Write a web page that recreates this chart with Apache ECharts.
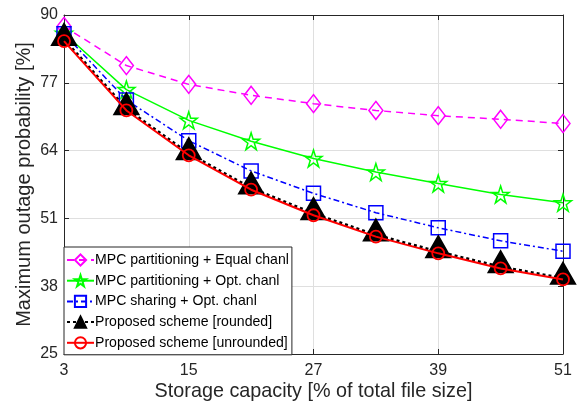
<!DOCTYPE html>
<html><head><meta charset="utf-8">
<script src="https://cdn.jsdelivr.net/npm/echarts@6/dist/echarts.min.js"></script>
<style>html,body{margin:0;padding:0;background:#fff}#c{width:582px;height:410px}</style>
</head><body><div id="c"></div>
<script>
const storage = [3, 9, 15, 21, 27, 33, 39, 45, 51];
const xTicks = [3, 15, 27, 39, 51];
const yTicks = [25, 38, 51, 64, 77, 90];
const mpcEqual = [87.8, 80.3, 76.7, 74.6, 73.0, 71.7, 70.7, 70.0, 69.2];
const mpcOpt = [86.5, 75.7, 69.8, 65.8, 62.5, 59.9, 57.7, 55.6, 54.0];
const sharingOpt = [86.4, 73.7, 65.9, 60.1, 55.8, 52.1, 49.2, 46.7, 44.7];
const proposedRounded = [85.3, 72.0, 63.4, 56.8, 51.9, 47.8, 44.6, 41.7, 39.5];
const proposedUnrounded = [85.0, 71.7, 63.1, 56.5, 51.6, 47.5, 44.3, 41.4, 39.3];
const names = ['MPC partitioning + Equal chanl','MPC partitioning + Opt. chanl','MPC sharing + Opt. chanl','Proposed scheme [rounded]','Proposed scheme [unrounded]'];

const FONT = '"Liberation Sans", Arial, sans-serif';
const AX = '#262626';
const star = 'path://M50,0 L61.8,36.2 L100,36.2 L69.1,58.8 L80.9,95.1 L50,72.7 L19.1,95.1 L30.9,58.8 L0,36.2 L38.2,36.2 Z';
const pairs = a => storage.map((x, i) => [x, a[i]]);

const chart = echarts.init(document.getElementById('c'), null, {renderer: 'canvas'});
const yStep = yTicks[1] - yTicks[0];
const xStep = xTicks[1] - xTicks[0];
const baseX = {type: 'value', min: xTicks[0], max: xTicks[xTicks.length-1], interval: xStep};
const baseY = {type: 'value', min: yTicks[0], max: yTicks[yTicks.length-1], interval: yStep};
chart.setOption({
  animation: false,
  backgroundColor: '#fff',
  textStyle: {fontFamily: FONT},
  grid: {left: 64, right: 19, top: 15, bottom: 56, containLabel: false},
  xAxis: [
    Object.assign({}, baseX, {
      position: 'bottom',
      name: 'Storage capacity [% of total file size]', nameLocation: 'middle', nameGap: 28,
      nameMoveOverlap: false,
      nameTextStyle: {fontSize: 19.8, color: AX, fontFamily: FONT},
      axisLine: {show: true, lineStyle: {color: AX, width: 1}},
      axisTick: {show: true, inside: true, length: 5, lineStyle: {color: AX}},
      axisLabel: {fontSize: 16, color: AX, margin: 9, fontFamily: FONT},
      splitLine: {show: true, lineStyle: {color: '#dfdfdf', width: 1}}
    }),
    Object.assign({}, baseX, {
      position: 'top',
      axisLine: {show: true, onZero: false, lineStyle: {color: AX, width: 1}},
      axisTick: {show: true, inside: true, length: 5, lineStyle: {color: AX}},
      axisLabel: {show: false}, splitLine: {show: false}
    })
  ],
  yAxis: [
    Object.assign({}, baseY, {
      position: 'left',
      name: 'Maximum outage probability [%]', nameLocation: 'middle', nameGap: 30, nameRotate: 90,
      nameMoveOverlap: false,
      nameTextStyle: {fontSize: 20, color: AX, fontFamily: FONT},
      axisLine: {show: true, lineStyle: {color: AX, width: 1}},
      axisTick: {show: true, inside: true, length: 5, lineStyle: {color: AX}},
      axisLabel: {fontSize: 16, color: AX, margin: 6, fontFamily: FONT},
      splitLine: {show: true, lineStyle: {color: '#dfdfdf', width: 1}}
    }),
    Object.assign({}, baseY, {
      position: 'right',
      axisLine: {show: true, onZero: false, lineStyle: {color: AX, width: 1}},
      axisTick: {show: true, inside: true, length: 5, lineStyle: {color: AX}},
      axisLabel: {show: false}, splitLine: {show: false}
    })
  ],
  legend: {
    orient: 'vertical', left: 64, top: 247,
    backgroundColor: '#fff', borderColor: '#262626', borderWidth: 1,
    padding: [6, 3, 5, 2],
    itemGap: 6.7, itemWidth: 27, itemHeight: 14,
    textStyle: {fontSize: 14.1, color: '#000', fontFamily: FONT, padding: [0,0,0,-4]},
    data: names
  },
  series: [
    {name: names[0], type: 'line', data: pairs(mpcEqual), symbol: 'diamond', symbolSize: [14, 18],
     lineStyle: {color: '#ff00ff', width: 1.5, type: [7, 5]},
     itemStyle: {color: 'rgba(255,255,255,0)', borderColor: '#ff00ff', borderWidth: 1.5}, z: 2},
    {name: names[1], type: 'line', data: pairs(mpcOpt), symbol: star, symbolSize: 17,
     lineStyle: {color: '#00ff00', width: 1.5, type: 'solid'},
     itemStyle: {color: 'rgba(255,255,255,0)', borderColor: '#00ff00', borderWidth: 1.5}, z: 3},
    {name: names[2], type: 'line', data: pairs(sharingOpt), symbol: 'rect', symbolSize: 14,
     lineStyle: {color: '#0000ff', width: 1.5, type: [6, 3, 2, 3]},
     itemStyle: {color: 'rgba(255,255,255,0)', borderColor: '#0000ff', borderWidth: 1.5}, z: 4},
    {name: names[3], type: 'line', data: pairs(proposedRounded), symbol: 'triangle', symbolSize: [24, 21], symbolOffset: [0, -5],
     lineStyle: {color: '#000', width: 3, type: [3, 3], cap: 'butt'},
     itemStyle: {color: '#000', borderColor: '#000', borderWidth: 2}, z: 5},
    {name: names[4], type: 'line', data: pairs(proposedUnrounded), symbol: 'circle', symbolSize: 12,
     lineStyle: {color: '#ff0000', width: 2, type: 'solid'},
     itemStyle: {color: 'rgba(255,255,255,0)', borderColor: '#ff0000', borderWidth: 1.8}, z: 6}
  ]
});
</script></body></html>
